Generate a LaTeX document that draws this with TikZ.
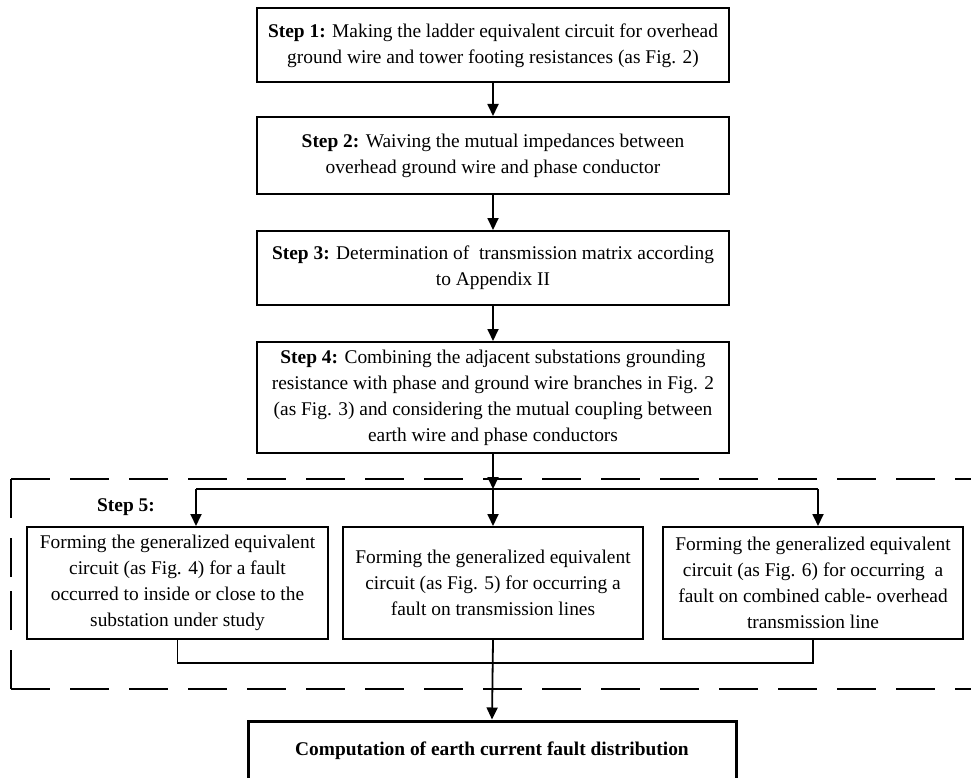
\documentclass[tikz,border=0pt]{standalone}
\usepackage{fontspec}
\setmainfont{Liberation Serif}
\usetikzlibrary{arrows.meta}
\tikzset{
  stepbox/.style={draw=black, line width=2pt, fill=white, align=center, inner sep=0pt,
    font=\fontsize{19.4}{26}\selectfont},
  arr/.style={line width=1.8pt, -{Triangle[length=12pt,width=11pt]}},
  conn/.style={line width=1.8pt},
  dashbox/.style={draw=black, line width=2.6pt, dash pattern=on 39pt off 20pt},
}
\begin{document}
\begin{tikzpicture}[x=1pt,y=-1pt]
\useasboundingbox (0,0) rectangle (971,778);
\clip (0,0) rectangle (971,778);
\fill[white] (0,0) rectangle (971,778);
% dashed frame
\coordinate (ftl) at (11,479);
\coordinate (fbl) at (11,689);
\coordinate (fml) at (11,584);
\coordinate (ftr) at (1010,479);
\coordinate (fbr) at (1010,689);
\draw[dashbox] (ftl) -- (ftr);
\draw[dashbox] (fbl) -- (fbr);
\draw[dashbox] (ftl) -- (fml);
\draw[dashbox] (fbl) -- (fml);
% steps
\node[stepbox, minimum width=472pt, minimum height=74pt] (s1) at (493,45.5)
  {\textbf{Step 1:} Making the ladder equivalent circuit for overhead\\ground wire and tower footing resistances (as Fig. 2)};
\node[stepbox, minimum width=472pt, minimum height=77pt] (s2) at (493,155.5)
  {\textbf{Step 2:} Waiving the mutual impedances between\\overhead ground wire and phase conductor};
\node[stepbox, minimum width=472pt, minimum height=74pt] (s3) at (493,268)
  {\textbf{Step 3:} Determination of \ transmission matrix according\\to Appendix II};
\node[stepbox, minimum width=472pt, minimum height=111pt] (s4) at (493,397.5)
  {\textbf{Step 4:} Combining the adjacent substations grounding\\resistance with phase and ground wire branches in Fig. 2\\(as Fig. 3) and considering the mutual coupling between\\earth wire and phase conductors};
\node[font=\fontsize{19.4}{26}\selectfont\bfseries, inner sep=0pt] (s5) at (126,507) {Step 5:};
\node[stepbox, minimum width=301pt, minimum height=112pt] (b1) at (177.5,583)
  {Forming the generalized equivalent\\circuit (as Fig. 4) for a fault\\occurred to inside or close to the\\substation under study};
\node[stepbox, minimum width=300pt, minimum height=112pt] (b2) at (493,583)
  {Forming the generalized equivalent\\circuit (as Fig. 5) for occurring a\\fault on transmission lines};
\node[stepbox, minimum width=300pt, minimum height=112pt] (b3) at (813,583)
  {Forming the generalized equivalent\\circuit (as Fig. 6) for occurring \ a\\fault on combined cable- overhead\\transmission line};
\node[stepbox, line width=3pt, minimum width=488pt, minimum height=60pt] (bot) at (492,751)
  {\textbf{Computation of earth current fault distribution}};
% connectors
\coordinate (bc) at (493,489);
\coordinate (bl) at (196,489);
\coordinate (br) at (818,489);
\coordinate (jj) at (493,663);
\draw[arr] (s1) -- (s2);
\draw[arr] (s2) -- (s3);
\draw[arr] (s3) -- (s4);
\draw[arr] (s4) -- (bc);
\draw[conn] (bl) -- (br);
\draw[arr] (bl) -- (bl |- b1.north);
\draw[arr] (bc) -- (b2.north);
\draw[arr] (br) -- (br |- b3.north);
\draw[conn] (b1.south) -- (b1.south |- jj) -- (b3.south |- jj) -- (b3.south);
\draw[arr] (b2.south) -- (bot.north);
\end{tikzpicture}
\end{document}
